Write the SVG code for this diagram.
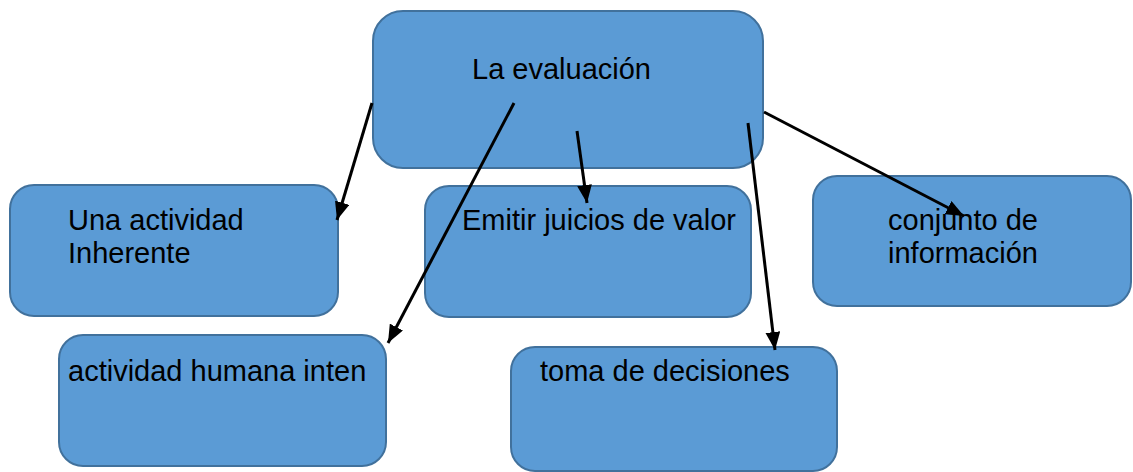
<svg xmlns="http://www.w3.org/2000/svg" width="1133" height="472" viewBox="0 0 1133 472">
<style>
.box{fill:#5B9BD5;stroke:#41719C;stroke-width:2}
.t{font-family:"Liberation Sans",Arial,sans-serif;font-size:29px;fill:#000}
.c{stroke:#000;stroke-width:3;fill:none;marker-end:url(#ah)}
</style>
<defs>
<marker id="ah" markerUnits="userSpaceOnUse" markerWidth="18" markerHeight="15" refX="17" refY="7" orient="auto" viewBox="0 0 17 14">
<path d="M0,0 L17,7 L0,14 Z" fill="#000"/>
</marker>
</defs>
<rect width="1133" height="472" fill="#fff"/>
<g id="n-eval"><rect class="box" x="373" y="11" width="390" height="157" rx="30"/><text class="t" x="472" y="79">La evaluación</text></g>
<g id="n-una"><rect class="box" x="10" y="185" width="328" height="131" rx="24"/><text class="t" x="68" y="230">Una actividad</text><text class="t" x="68" y="263">Inherente</text></g>
<g id="n-emitir"><rect class="box" x="425" y="186" width="326" height="131" rx="24"/><text class="t" x="462" y="230">Emitir juicios de valor</text></g>
<g id="n-conjunto"><rect class="box" x="813" y="176" width="318" height="130" rx="24"/><text class="t" x="888" y="230">conjunto de</text><text class="t" x="888" y="263">información</text></g>
<g id="n-humana"><rect class="box" x="59" y="335" width="327" height="131" rx="24"/><text class="t" x="68" y="381">actividad humana inten</text></g>
<g id="n-toma"><rect class="box" x="511" y="347" width="326" height="124" rx="24"/><text class="t" x="540" y="381">toma de decisiones</text></g>
<g id="connectors">
<line class="c" x1="372" y1="103" x2="337" y2="220"/>
<line class="c" x1="514" y1="103" x2="388" y2="343"/>
<line class="c" x1="577" y1="131" x2="587" y2="203"/>
<line class="c" x1="748" y1="123" x2="775" y2="350"/>
<line class="c" x1="764" y1="112" x2="964" y2="216"/>
</g>
</svg>
